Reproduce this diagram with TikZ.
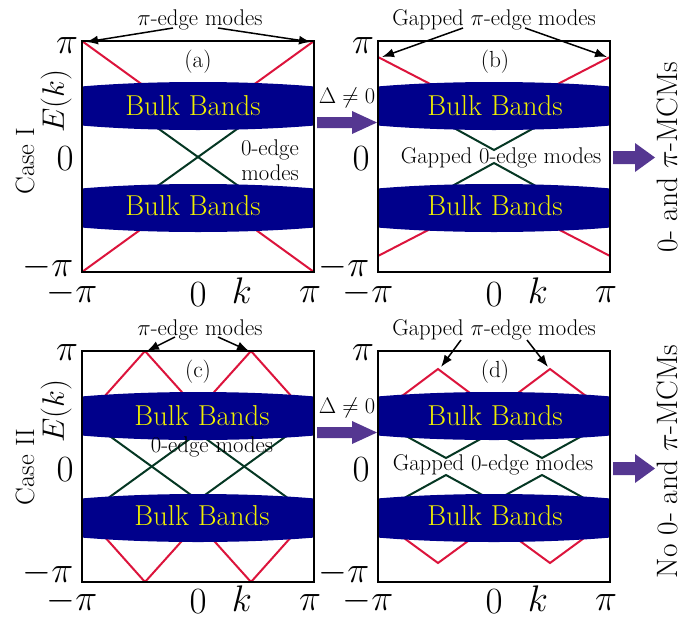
\RequirePackage{fix-cm}
\documentclass[tikz,border=0pt]{standalone}
\usetikzlibrary{arrows.meta}
\definecolor{bandblue}{RGB}{0,0,139}
\definecolor{bandtext}{RGB}{238,238,0}
\definecolor{edgered}{RGB}{220,20,60}
\definecolor{edgegreen}{RGB}{5,55,35}
\definecolor{fatpurple}{RGB}{85,55,145}
\begin{document}
\begin{tikzpicture}[x=1pt,y=-1pt,
  redline/.style={draw=edgered,line width=2pt},
  greenline/.style={draw=edgegreen,line width=2pt},
  band/.style={fill=bandblue},
  frame/.style={draw=black,line width=2pt},
  bulk/.style={text=bandtext,inner sep=0pt,font=\fontsize{28.8}{32}\selectfont},
  tick/.style={inner sep=0pt,anchor=base,font=\fontsize{37}{40}\selectfont},
  small/.style={inner sep=0pt,font=\fontsize{22.7}{25}\selectfont},
  panel/.style={inner sep=0pt,font=\fontsize{23.3}{26}\selectfont},
  axlab/.style={inner sep=0pt,rotate=90,font=\fontsize{31}{35}\selectfont},
  caselab/.style={inner sep=0pt,rotate=90,font=\fontsize{26.5}{30}\selectfont},
  resultlab/.style={inner sep=0pt,rotate=90,font=\fontsize{29.5}{32}\selectfont},
  deltalab/.style={inner sep=0pt,font=\fontsize{22.5}{25}\selectfont},
  thinarrow/.style={draw=black,line width=1.5pt,-{Latex[length=12pt,width=9pt]}},
  fatarrow/.style={fill=fatpurple}
]
\useasboundingbox (0,0) rectangle (690,616);

% ---------------- panel (a)
\begin{scope}
\clip (82,41) rectangle (314,272);
\draw[redline] (82,41) -- (198,125) -- (314,41);
\draw[redline] (82,272) -- (198,188) -- (314,272);
\draw[greenline] (138,114) -- (258,200);
\draw[greenline] (138,200) -- (258,114);
\fill[band] (198,106) ellipse [x radius=200, y radius=24];
\fill[band] (198,208) ellipse [x radius=200, y radius=24];
\end{scope}
\draw[frame] (82,41) rectangle (314,272);
\node[bulk] (abu) at (193,106) {Bulk Bands};
\node[bulk] (abl) at (193,206) {Bulk Bands};
\node[panel] (alab) at (198,62) {(a)};
\node[small,align=center] (azero) at (270,160) {0-edge\\modes};
\node[small,anchor=base] (api) at (200,25) {$\pi$-edge modes};
\coordinate (aat1) at (173,28); \coordinate (aat2) at (218,28);
\coordinate (aah1) at (86,42);  \coordinate (aah2) at (311,42);
\draw[thinarrow] (aat1) -- (aah1);
\draw[thinarrow] (aat2) -- (aah2);
\node[tick] (ay1) at (67,53) {$\pi$};
\node[tick] (ay2) at (65,170) {$0$};
\node[tick] (ay3) at (48,276) {$-\pi$};
\node[tick] (ax1) at (72,302) {$-\pi$};
\node[tick] (ax2) at (198,306) {$0$};
\node[tick] (ax3) at (242,303) {$k$};
\node[tick] (ax4) at (310,302) {$\pi$};
\node[axlab] (aE) at (56,101) {$E(k)$};
\node[caselab] (acase) at (25,161) {Case I};

% ---------------- panel (b)
\begin{scope}
\clip (378,41) rectangle (610,272);
\draw[redline] (378,57) -- (494,117) -- (610,57);
\draw[redline] (378,256) -- (494,196) -- (610,256);
\draw[greenline] (434,117) -- (494,150) -- (554,117);
\draw[greenline] (434,196) -- (494,163) -- (554,196);
\fill[band] (494,106) ellipse [x radius=200, y radius=24];
\fill[band] (494,208) ellipse [x radius=200, y radius=24];
\end{scope}
\draw[frame] (378,41) rectangle (610,272);
\node[bulk] (bbu) at (495,106) {Bulk Bands};
\node[bulk] (bbl) at (495,206) {Bulk Bands};
\node[panel] (blab) at (495,62) {(b)};
\node[small] (bzero) at (501,158) {Gapped 0-edge modes};
\node[small,anchor=base] (bpi) at (494,25) {Gapped $\pi$-edge modes};
\coordinate (bat1) at (463,28); \coordinate (bat2) at (525,28);
\coordinate (bah1) at (382,57); \coordinate (bah2) at (607,57);
\draw[thinarrow] (bat1) -- (bah1);
\draw[thinarrow] (bat2) -- (bah2);
\node[tick] (by1) at (363,53) {$\pi$};
\node[tick] (by2) at (361,170) {$0$};
\node[tick] (by3) at (344,276) {$-\pi$};
\node[tick] (bx1) at (368,302) {$-\pi$};
\node[tick] (bx2) at (494,306) {$0$};
\node[tick] (bx3) at (538,303) {$k$};
\node[tick] (bx4) at (606,302) {$\pi$};

% ---------------- panel (c)
\begin{scope}
\clip (82,351) rectangle (314,582);
\draw[redline] (82,421.6) -- (145,351) -- (198,410) -- (251,351) -- (314,421.6);
\draw[redline] (82,511.4) -- (145,582) -- (198,523) -- (251,582) -- (314,511.4);
\draw[greenline] (82,416) -- (198,500) -- (314,416);
\draw[greenline] (82,517) -- (198,433) -- (314,517);
\fill[band] (198,416) ellipse [x radius=200, y radius=24];
\fill[band] (198,518) ellipse [x radius=200, y radius=24];
\end{scope}
\draw[frame] (82,351) rectangle (314,582);
\node[bulk] (cbu) at (202,416) {Bulk Bands};
\node[bulk] (cbl) at (202,516) {Bulk Bands};
\node[panel] (clab) at (198,372) {(c)};
\node[small] (czero) at (212,447) {0-edge modes};
\node[small,anchor=base] (cpi) at (200,335) {$\pi$-edge modes};
\coordinate (cat1) at (175,337); \coordinate (cat2) at (218,337);
\coordinate (cah1) at (147,351); \coordinate (cah2) at (249,351);
\draw[thinarrow] (cat1) -- (cah1);
\draw[thinarrow] (cat2) -- (cah2);
\node[tick] (cy1) at (67,360) {$\pi$};
\node[tick] (cy2) at (65,481) {$0$};
\node[tick] (cy3) at (48,582) {$-\pi$};
\node[tick] (cx1) at (72,610) {$-\pi$};
\node[tick] (cx2) at (198,613) {$0$};
\node[tick] (cx3) at (242,611) {$k$};
\node[tick] (cx4) at (310,610) {$\pi$};
\node[axlab] (cE) at (56,411) {$E(k)$};
\node[caselab] (ccase) at (25,467) {Case II};

% ---------------- panel (d)
\begin{scope}
\clip (378,351) rectangle (610,582);
\draw[redline] (378,414) -- (438,369) -- (494,411) -- (550,369) -- (610,414);
\draw[redline] (378,519) -- (438,563) -- (494,522) -- (550,563) -- (610,519);
\draw[greenline] (378,420.6) -- (446,458) -- (494,431.6) -- (542,458) -- (610,420.6);
\draw[greenline] (378,512.4) -- (446,475) -- (494,501.4) -- (542,475) -- (610,512.4);
\fill[band] (494,416) ellipse [x radius=200, y radius=24];
\fill[band] (494,518) ellipse [x radius=200, y radius=24];
\end{scope}
\draw[frame] (378,351) rectangle (610,582);
\node[bulk] (dbu) at (495,416) {Bulk Bands};
\node[bulk] (dbl) at (495,516) {Bulk Bands};
\node[panel] (dlab) at (495,372) {(d)};
\node[small] (dzero) at (493,465) {Gapped 0-edge modes};
\node[small,anchor=base] (dpi) at (494,335) {Gapped $\pi$-edge modes};
\coordinate (dat1) at (461,340); \coordinate (dat2) at (527,340);
\coordinate (dah1) at (441,367); \coordinate (dah2) at (548,367);
\draw[thinarrow] (dat1) -- (dah1);
\draw[thinarrow] (dat2) -- (dah2);
\node[tick] (dy1) at (363,360) {$\pi$};
\node[tick] (dy2) at (361,481) {$0$};
\node[tick] (dy3) at (344,582) {$-\pi$};
\node[tick] (dx1) at (368,610) {$-\pi$};
\node[tick] (dx2) at (494,613) {$0$};
\node[tick] (dx3) at (538,611) {$k$};
\node[tick] (dx4) at (606,610) {$\pi$};

% ---------------- fat arrows and side labels
\fill[fatarrow] (317,117) -- (352,117) -- (352,111) -- (377,122.5) -- (352,134) -- (352,128) -- (317,128) -- cycle;
\node[deltalab] (d1) at (347,98) {$\Delta\neq0$};
\fill[fatarrow] (317,427) -- (352,427) -- (352,421) -- (377,432.5) -- (352,444) -- (352,438) -- (317,438) -- cycle;
\node[deltalab] (d2) at (347,408) {$\Delta\neq0$};
\fill[fatarrow] (613,151) -- (635,151) -- (635,143) -- (655,157.5) -- (635,172) -- (635,164) -- (613,164) -- cycle;
\node[resultlab] (r1) at (667,157.5) {0- and $\pi$-MCMs};
\fill[fatarrow] (613,462) -- (635,462) -- (635,454) -- (655,468.5) -- (635,483) -- (635,475) -- (613,475) -- cycle;
\node[resultlab] (r2) at (667,461.5) {No 0- and $\pi$-MCMs};
\end{tikzpicture}
\end{document}
